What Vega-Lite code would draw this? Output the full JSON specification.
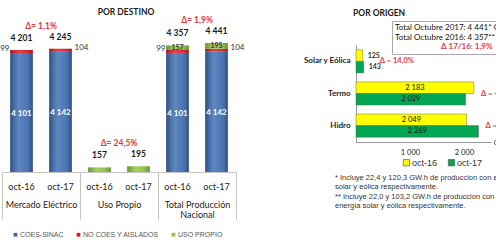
{
  "$schema": "https://vega.github.io/schema/vega-lite/v6.json",
  "padding": {"left": 0, "top": 7, "right": 0, "bottom": 0},
  "bounds": "flush",
  "spacing": 120,
  "config": {
    "view": {"stroke": null},
    "font": "Lato",
    "axis": {"labelOverlap": false},
    "locale": {"number": {"decimal": ",", "thousands": " ", "grouping": [3], "currency": ["", ""]}}
  },
  "resolve": {"scale": {"color": "independent", "shape": "independent"}, "legend": {"color": "independent", "shape": "independent"}},
  "datasets": {
    "destino": [
      {"key": "Mercado Eléctrico|oct-16", "group": "Mercado Eléctrico", "period": "oct-16", "serie": "COES-SINAC", "value": 4101},
      {"key": "Mercado Eléctrico|oct-16", "group": "Mercado Eléctrico", "period": "oct-16", "serie": "NO COES Y AISLADOS", "value": 99},
      {"key": "Mercado Eléctrico|oct-17", "group": "Mercado Eléctrico", "period": "oct-17", "serie": "COES-SINAC", "value": 4142},
      {"key": "Mercado Eléctrico|oct-17", "group": "Mercado Eléctrico", "period": "oct-17", "serie": "NO COES Y AISLADOS", "value": 104},
      {"key": "Uso Propio|oct-16", "group": "Uso Propio", "period": "oct-16", "serie": "USO PROPIO", "value": 157},
      {"key": "Uso Propio|oct-17", "group": "Uso Propio", "period": "oct-17", "serie": "USO PROPIO", "value": 195},
      {"key": "Total Producción Nacional|oct-16", "group": "Total Producción Nacional", "period": "oct-16", "serie": "COES-SINAC", "value": 4101},
      {"key": "Total Producción Nacional|oct-16", "group": "Total Producción Nacional", "period": "oct-16", "serie": "NO COES Y AISLADOS", "value": 99},
      {"key": "Total Producción Nacional|oct-16", "group": "Total Producción Nacional", "period": "oct-16", "serie": "USO PROPIO", "value": 157},
      {"key": "Total Producción Nacional|oct-17", "group": "Total Producción Nacional", "period": "oct-17", "serie": "COES-SINAC", "value": 4142},
      {"key": "Total Producción Nacional|oct-17", "group": "Total Producción Nacional", "period": "oct-17", "serie": "NO COES Y AISLADOS", "value": 104},
      {"key": "Total Producción Nacional|oct-17", "group": "Total Producción Nacional", "period": "oct-17", "serie": "USO PROPIO", "value": 195}
    ],
    "totales": [
      {"key": "Mercado Eléctrico|oct-16", "total": 4201, "label": "4 201"},
      {"key": "Mercado Eléctrico|oct-17", "total": 4245, "label": "4 245"},
      {"key": "Uso Propio|oct-16", "total": 157, "label": "157"},
      {"key": "Uso Propio|oct-17", "total": 195, "label": "195"},
      {"key": "Total Producción Nacional|oct-16", "total": 4357, "label": "4 357"},
      {"key": "Total Producción Nacional|oct-17", "total": 4441, "label": "4 441"}
    ],
    "deltaDestino": [
      {"group": "Mercado Eléctrico", "ref": 4245, "label": "Δ= 1,1%"},
      {"group": "Uso Propio", "ref": 195, "label": "Δ= 24,5%"},
      {"group": "Total Producción Nacional", "ref": 4441, "label": "Δ= 1,9%"}
    ],
    "origen": [
      {"cat": "Solar y Eólica", "period": "oct-16", "value": 125},
      {"cat": "Solar y Eólica", "period": "oct-17", "value": 143},
      {"cat": "Termo", "period": "oct-16", "value": 2183},
      {"cat": "Termo", "period": "oct-17", "value": 2029},
      {"cat": "Hidro", "period": "oct-16", "value": 2049},
      {"cat": "Hidro", "period": "oct-17", "value": 2269}
    ],
    "deltaOrigen": [
      {"cat": "Solar y Eólica", "ref": 143, "label": "Δ = 14,0%"},
      {"cat": "Termo", "ref": 2183, "label": "Δ = -7,1%"},
      {"cat": "Hidro", "ref": 2269, "label": "Δ = 10,7%"}
    ],
    "nota": [
      {"nota": "Δ 17/16: 1,9%"}
    ]
  },
  "hconcat": [
    {
      "width": 234,
      "height": 127,
      "title": {"text": "POR DESTINO", "fontSize": 8.5, "font": "Lato", "fontWeight": "bold", "color": "#1a1a1a", "anchor": "middle", "frame": "group", "dx": 7, "offset": 0},
      "layer": [
        {
          "layer": [
            {
              "data": {"name": "destino"},
              "mark": {"type": "bar"},
              "encoding": {
                "x": {"field": "key", "type": "nominal",
                  "scale": {"domain": ["Mercado Eléctrico|oct-16", "Mercado Eléctrico|oct-17", "Uso Propio|oct-16", "Uso Propio|oct-17", "Total Producción Nacional|oct-16", "Total Producción Nacional|oct-17"], "paddingInner": 0.42, "paddingOuter": 0.21},
                  "axis": {"orient": "bottom", "title": null, "domain": false, "ticks": false, "labelExpr": "split(datum.value,'|')[1]", "labelPadding": 10, "labelFont": "Lato", "labelFontSize": 9, "labelColor": "#222", "labelAngle": 0}},
                "y": {"field": "value", "type": "quantitative", "stack": "zero", "scale": {"domain": [0, 4373], "nice": false}, "axis": null},
                "order": {"field": "serie", "type": "nominal", "sort": "ascending"},
                "color": {"field": "serie", "type": "nominal",
                  "scale": {"domain": ["COES-SINAC", "NO COES Y AISLADOS", "USO PROPIO"], "range": ["#3c6db3", "#e2141c", "#8dc63f"]},
                  "legend": {"orient": "none", "legendX": 10, "legendY": 186, "direction": "horizontal", "title": null, "symbolType": "square", "symbolSize": 14, "labelFont": "Liberation Sans", "labelFontSize": 7, "labelColor": "#555", "columnPadding": 11, "labelOffset": 1}}
              }
            },
            {
              "data": {"name": "destino"},
              "mark": {"type": "bar", "fill": {"gradient": "linear", "x1": 0, "y1": 0, "x2": 1, "y2": 0, "stops": [{"offset": 0, "color": "rgba(0,0,0,0.28)"}, {"offset": 0.4, "color": "rgba(255,255,255,0.18)"}, {"offset": 0.6, "color": "rgba(255,255,255,0.1)"}, {"offset": 1, "color": "rgba(0,0,0,0.3)"}]}},
              "encoding": {
                "x": {"field": "key", "type": "nominal"},
                "y": {"field": "value", "type": "quantitative", "stack": "zero"},
                "order": {"field": "serie", "type": "nominal", "sort": "ascending"},
                "detail": {"field": "serie", "type": "nominal"}
              }
            },
            {
              "data": {"name": "destino"},
              "transform": [{"filter": "datum.serie == 'COES-SINAC'"}],
              "mark": {"type": "text", "align": "center", "baseline": "middle", "dy": 61, "fontSize": 8, "font": "Lato", "fontWeight": "bold", "color": "#ffffff"},
              "encoding": {
                "x": {"field": "key", "type": "nominal"},
                "y": {"field": "value", "type": "quantitative"},
                "text": {"field": "value", "type": "quantitative", "format": ",.0f"}
              }
            },
            {
              "data": {"name": "destino"},
              "transform": [
                {"stack": "value", "groupby": ["key"], "sort": [{"field": "serie", "order": "ascending"}], "as": ["v0", "v1"]},
                {"filter": "datum.serie == 'NO COES Y AISLADOS' && datum.period == 'oct-16'"}
              ],
              "mark": {"type": "text", "align": "right", "baseline": "middle", "dx": -12, "dy": -1, "fontSize": 8, "font": "Lato", "color": "#333"},
              "encoding": {
                "x": {"field": "key", "type": "nominal"},
                "y": {"field": "v1", "type": "quantitative"},
                "text": {"field": "value", "type": "quantitative", "format": ",.0f"}
              }
            },
            {
              "data": {"name": "destino"},
              "transform": [
                {"stack": "value", "groupby": ["key"], "sort": [{"field": "serie", "order": "ascending"}], "as": ["v0", "v1"]},
                {"filter": "datum.serie == 'NO COES Y AISLADOS' && datum.period == 'oct-17'"}
              ],
              "mark": {"type": "text", "align": "left", "baseline": "middle", "dx": 14, "dy": -1, "fontSize": 8, "font": "Lato", "color": "#333"},
              "encoding": {
                "x": {"field": "key", "type": "nominal"},
                "y": {"field": "v1", "type": "quantitative"},
                "text": {"field": "value", "type": "quantitative", "format": ",.0f"}
              }
            },
            {
              "data": {"name": "destino"},
              "transform": [
                {"stack": "value", "groupby": ["key"], "sort": [{"field": "serie", "order": "ascending"}], "as": ["v0", "v1"]},
                {"filter": "datum.serie == 'USO PROPIO' && datum.group == 'Total Producción Nacional'"}
              ],
              "mark": {"type": "text", "align": "center", "baseline": "middle", "dy": 3, "fontSize": 7, "font": "Lato", "fontWeight": "bold", "color": "#333"},
              "encoding": {
                "x": {"field": "key", "type": "nominal"},
                "y": {"field": "v1", "type": "quantitative"},
                "text": {"field": "value", "type": "quantitative", "format": ",.0f"}
              }
            },
            {
              "data": {"name": "totales"},
              "mark": {"type": "text", "align": "center", "baseline": "middle", "dy": -12, "fontSize": 8.5, "font": "Lato", "fontWeight": "bold", "color": "#1a1a1a"},
              "encoding": {
                "x": {"field": "key", "type": "nominal"},
                "y": {"field": "total", "type": "quantitative"},
                "text": {"field": "label", "type": "nominal"}
              }
            }
          ]
        },
        {
          "data": {"name": "deltaDestino"},
          "mark": {"type": "text", "align": "center", "baseline": "middle", "dy": -23, "fontSize": 8.5, "font": "Lato", "fontWeight": "bold", "color": "#e0393e"},
          "encoding": {
            "x": {"field": "group", "type": "nominal",
              "scale": {"domain": ["Mercado Eléctrico", "Uso Propio", "Total Producción Nacional"], "paddingInner": 0, "paddingOuter": 0},
              "axis": {"orient": "bottom", "title": null, "domain": true, "domainColor": "#c4c4c4", "ticks": true, "tickBand": "extent", "tickSize": 47, "tickColor": "#c4c4c4", "labelPadding": -19, "labelExpr": "datum.value == 'Total Producción Nacional' ? ['Total Producción', 'Nacional'] : datum.value", "labelFont": "Lato", "labelFontSize": 9, "labelColor": "#222", "labelLineHeight": 10, "labelAngle": 0}},
            "y": {"field": "ref", "type": "quantitative"},
            "text": {"field": "label", "type": "nominal"}
          }
        }
      ],
      "resolve": {"scale": {"x": "independent"}, "axis": {"x": "independent"}}
    },
    {
      "bounds": "flush",
      "title": {
        "text": ["* Incluye 22,4 y 120,3 GW.h de produccion con energía", "solar y eólica respectivamente."],
        "subtitle": ["** Incluye 22,0 y 103,2 GW.h de produccion con energía", "energía  solar y eólica respectivamente."],
        "orient": "bottom", "anchor": "start", "frame": "group", "dx": -21, "offset": 6,
        "font": "Liberation Sans", "fontSize": 7.5, "fontWeight": "normal", "color": "#333", "lineHeight": 8.5,
        "subtitleFont": "Liberation Sans", "subtitleFontSize": 7.5, "subtitleColor": "#333", "subtitleLineHeight": 8.5, "subtitlePadding": 3
      },
      "vconcat": [
        {
          "width": 135,
          "height": 97,
          "title": {"text": "POR ORIGEN", "anchor": "start", "frame": "group", "dx": -3, "fontSize": 8.5, "font": "Lato", "fontWeight": "bold", "color": "#1a1a1a", "offset": 28},
          "layer": [
            {
              "layer": [
                {
                  "data": {"name": "origen"},
                  "mark": {"type": "bar", "stroke": "#666", "strokeWidth": 0.5},
                  "encoding": {
                    "x": {"field": "value", "type": "quantitative", "scale": {"domain": [0, 2500], "nice": false},
                      "axis": {"title": "GW.h", "titleX": 137, "titleY": 0, "titleAlign": "left", "titleBaseline": "middle", "titleFont": "Liberation Sans", "titleFontSize": 8, "titleFontWeight": "normal", "titleColor": "#333", "domain": true, "domainColor": "#999", "ticks": false, "grid": false, "values": [0, 500, 1000, 1500, 2000, 2500], "format": ",.0f", "labelExpr": "datum.value == 0 ? '' : datum.label", "labelOverlap": false, "labelBound": false, "labelFlush": false, "labelSeparation": 0, "labelPadding": 6, "labelFont": "Lato", "labelFontSize": 7.5, "labelColor": "#222"}},
                    "y": {"field": "cat", "type": "nominal", "scale": {"domain": ["Solar y Eólica", "Termo", "Hidro"], "paddingInner": 0.28, "paddingOuter": 0.15},
                      "axis": {"title": null, "domain": true, "domainColor": "#999", "ticks": false, "labelPadding": 6, "labelFont": "Lato", "labelFontSize": 8, "labelFontWeight": "bold", "labelColor": "#222"}},
                    "yOffset": {"field": "period", "type": "nominal", "scale": {"paddingInner": 0, "paddingOuter": 0}},
                    "color": {"field": "period", "type": "nominal", "scale": {"domain": ["oct-16", "oct-17"], "range": ["#ffff00", "#00a651"]},
                      "legend": {"orient": "none", "legendX": 46, "legendY": 113, "direction": "horizontal", "title": null, "symbolType": "square", "symbolSize": 40, "symbolStrokeColor": "#555", "symbolStrokeWidth": 0.7, "labelFont": "Liberation Sans", "labelFontSize": 9, "labelColor": "#333", "columnPadding": 8, "labelOffset": 1}}
                  }
                },
                {
                  "data": {"name": "origen"},
                  "transform": [{"filter": "datum.cat == 'Solar y Eólica'"}],
                  "mark": {"type": "text", "align": "left", "baseline": "middle", "dx": 5, "fontSize": 7, "font": "Lato", "fontWeight": "bold", "color": "#333"},
                  "encoding": {
                    "x": {"field": "value", "type": "quantitative"},
                    "y": {"field": "cat", "type": "nominal"},
                    "yOffset": {"field": "period", "type": "nominal"},
                    "text": {"field": "value", "type": "quantitative", "format": ",.0f"}
                  }
                },
                {
                  "data": {"name": "deltaOrigen"},
                  "transform": [{"filter": "datum.cat == 'Solar y Eólica'"}],
                  "mark": {"type": "text", "align": "left", "baseline": "middle", "dx": 16, "fontSize": 7.5, "font": "Lato", "fontWeight": "bold", "color": "#e0393e"},
                  "encoding": {
                    "x": {"field": "ref", "type": "quantitative"},
                    "y": {"field": "cat", "type": "nominal"},
                    "text": {"field": "label", "type": "nominal"}
                  }
                },
                {
                  "data": {"name": "deltaOrigen"},
                  "transform": [{"filter": "datum.cat != 'Solar y Eólica'"}],
                  "mark": {"type": "text", "align": "left", "baseline": "middle", "dx": 7, "fontSize": 7.5, "font": "Lato", "fontWeight": "bold", "color": "#e0393e"},
                  "encoding": {
                    "x": {"field": "ref", "type": "quantitative"},
                    "y": {"field": "cat", "type": "nominal"},
                    "text": {"field": "label", "type": "nominal"}
                  }
                },
                {
                  "data": {"name": "nota"},
                  "mark": {"type": "point", "opacity": 0},
                  "encoding": {
                    "shape": {"field": "nota", "type": "nominal",
                      "legend": {"orient": "none", "legendX": 36, "legendY": -24, "title": ["Total Octubre 2017: 4 441*  GW.h", "Total Octubre 2016: 4 357** GW.h"], "titleFont": "Lato", "titleFontSize": 8, "titleFontWeight": "normal", "titleColor": "#111", "titleLineHeight": 10, "titlePadding": 1, "labelFont": "Lato", "labelFontSize": 8, "labelFontWeight": "bold", "labelColor": "#e0393e", "labelOffset": 38, "symbolOpacity": 0, "symbolSize": 10, "strokeColor": "#aaa", "fillColor": "#ffffff", "padding": 3}}
                  }
                }
              ]
            },
            {
              "data": {"name": "origen"},
              "transform": [{"filter": "datum.cat != 'Solar y Eólica'"}],
              "mark": {"type": "text", "align": "center", "baseline": "middle", "fontSize": 7.5, "font": "Lato", "color": "#111"},
              "encoding": {
                "x": {"field": "value", "type": "quantitative", "scale": {"domain": [0, 5000], "nice": false}, "axis": null},
                "y": {"field": "cat", "type": "nominal"},
                "yOffset": {"field": "period", "type": "nominal"},
                "text": {"field": "value", "type": "quantitative", "format": ",.0f"}
              }
            }
          ],
          "resolve": {"scale": {"x": "independent"}}
        }
      ]
    }
  ]
}
